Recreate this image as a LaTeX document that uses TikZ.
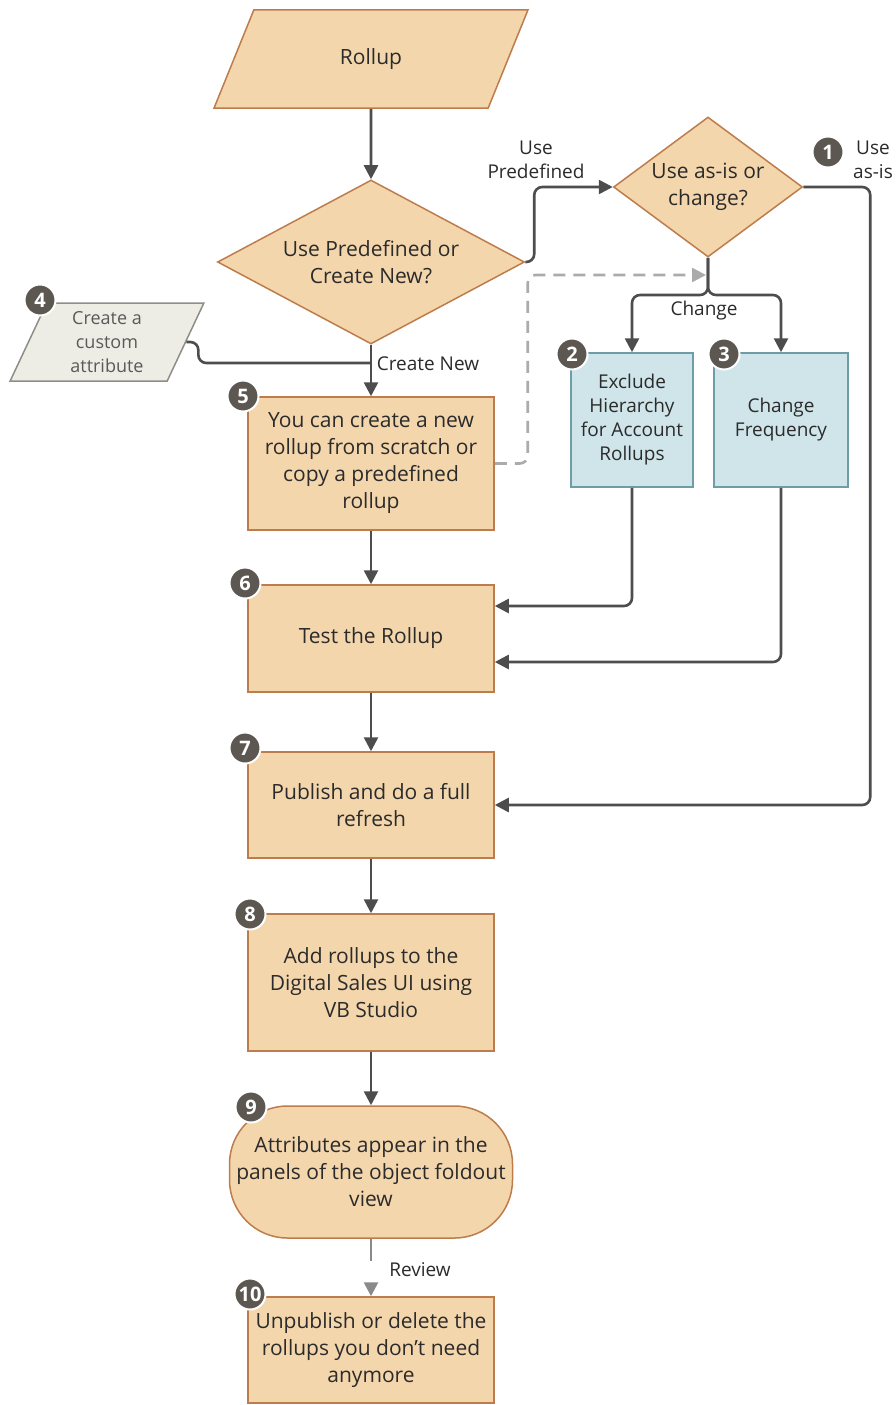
\documentclass[tikz,border=0pt]{standalone}
\usepackage{fontspec}
\setmainfont{Open Sans}
\usetikzlibrary{shapes.geometric, arrows.meta}
\definecolor{peach}{HTML}{F4D6AC}
\definecolor{rimorange}{HTML}{BD7C4C}
\definecolor{paleblue}{HTML}{CFE5EA}
\definecolor{rimblue}{HTML}{6E9DA9}
\definecolor{palegray}{HTML}{EEEDE5}
\definecolor{rimgray}{HTML}{8E8E88}
\definecolor{badgegray}{HTML}{5D5752}
\definecolor{linegray}{HTML}{4D4D4D}
\definecolor{dashgray}{HTML}{ABABAB}
\definecolor{midgray}{HTML}{8A8A8A}
\definecolor{textdark}{HTML}{2B2B2B}
\newcommand{\mainsize}{\fontsize{21}{27}\selectfont}
\newcommand{\lblsize}{\fontsize{19}{24}\selectfont}
\newcommand{\badgesize}{\fontsize{20}{20}\selectfont}
\tikzstyle{inout} = [trapezium, trapezium stretches=true, draw=rimorange, fill=peach, line width=1.5pt, text=textdark, align=center, inner sep=0pt, font=\mainsize]
\tikzstyle{decision} = [diamond, draw=rimorange, fill=peach, line width=1.5pt, text=textdark, align=center, inner sep=0pt, font=\mainsize]
\tikzstyle{process} = [rectangle, minimum width=246pt, draw=rimorange, fill=peach, line width=1.5pt, text=textdark, align=center, font=\mainsize]
\tikzstyle{option} = [rectangle, minimum height=134pt, draw=rimblue, fill=paleblue, line width=1.5pt, text=textdark, align=center, font=\lblsize]
\tikzstyle{badge} = [circle, minimum size=31pt, inner sep=0pt, fill=badgegray, draw=white, line width=2pt, text=white, font=\badgesize\bfseries]
\tikzstyle{tag} = [text=textdark, align=center, font=\lblsize]
\tikzstyle{arrow} = [line width=2.6pt, draw=linegray, rounded corners=8pt, ->, >={Triangle[length=14pt,width=14pt]}]
\tikzstyle{link} = [line width=2.6pt, draw=linegray, rounded corners=8pt]
\tikzstyle{dasharrow} = [line width=2.6pt, draw=dashgray, rounded corners=8pt, dash pattern=on 12pt off 8pt, ->, >={Triangle[length=14pt,width=14pt]}]
\tikzstyle{reviewarrow} = [line width=2.6pt, draw=midgray, dash pattern=on 22pt off 40pt, ->, >={Triangle[length=14pt,width=14pt]}]

\begin{document}
\begin{tikzpicture}[x=1pt, y=-1pt]
    \useasboundingbox (0,0) rectangle (895,1405);

    \node (rollup) [inout, minimum width=315pt, minimum height=98pt, trapezium left angle=63.4, trapezium right angle=116.6] at (371,59) {Rollup};
    \node (predef) [decision, minimum width=307pt, minimum height=164pt, aspect=1.87] at (371,262) {Use Predefined or\\Create New?};
    \node (asis) [decision, minimum width=189pt, minimum height=140pt, aspect=1.35] at (708,187) {Use as-is or\\change?};
    \node (attr) [inout, draw=rimgray, fill=palegray, text=black!65, font=\fontsize{18}{24}\selectfont, minimum width=194pt, minimum height=78pt, trapezium left angle=70, trapezium right angle=110] at (107,342) {Create a\\custom\\attribute};
    \node (create) [process, minimum height=133pt] at (371,463.5) {You can create a new\\rollup from scratch or\\copy a predefined\\rollup};
    \node (exclude) [option, minimum width=122pt] at (632,420) {Exclude\\Hierarchy\\for Account\\Rollups};
    \node (freq) [option, minimum width=134pt] at (781,420) {Change\\Frequency};
    \node (test) [process, minimum height=107pt] at (371,638.5) {Test the Rollup};
    \node (publish) [process, minimum height=106pt] at (371,805) {Publish and do a full\\refresh};
    \node (addui) [process, minimum height=137pt] at (371,982.5) {Add rollups to the\\Digital Sales UI using\\VB Studio};
    \node (appear) [process, minimum width=283pt, minimum height=132pt, rounded corners=58pt] at (371,1172) {Attributes appear in the\\panels of the object foldout\\view};
    \node (unpub) [process, minimum height=106pt] at (371,1350) {Unpublish or delete the\\rollups you don’t need\\anymore};

    % step numbers
    \node (b1) [badge] at (828,152) {1};
    \node (b2) [badge] at (572,354) {2};
    \node (b3) [badge] at (724,354) {3};
    \node (b4) [badge] at (40,300) {4};
    \node (b5) [badge] at (243,396) {5};
    \node (b6) [badge] at (245,583) {6};
    \node (b7) [badge] at (245,748) {7};
    \node (b8) [badge] at (250,914) {8};
    \node (b9) [badge] at (251,1107) {9};
    \node (b10) [badge] at (250,1294) {10};

    \node (lpredef) [tag] at (536,160) {Use\\Predefined};
    \node (lasis) [tag] at (873,160) {Use\\as-is};
    \node (lchange) [tag] at (704,311) {Change};
    \node (lnew) [tag] at (428,364) {Create New};
    \node (lreview) [tag] at (420,1270) {Review};

    \coordinate (join) at (371,363);
    \coordinate (fork) at (708,295);
    \coordinate (dashend) at (706,275);

    \draw [arrow] (rollup) -- (predef);
    \draw [arrow] (predef.east) -- ++(9,0) |- (asis.west);
    \draw [link] (attr.east) -- ++(12,0) |- (join);
    \draw [arrow] (predef.south) -- (create.north);
    \draw [dasharrow] (create.east) -- ++(33,0) |- (dashend);
    \draw [arrow] (asis.south) -- (fork) -| (exclude.north);
    \draw [arrow] (asis.south) -- (fork) -| (freq.north);
    \draw [arrow] (asis.east) -- ++(67,0) |- (publish.east);
    \draw [arrow] (exclude.south) |- (test.east |- 0,606);
    \draw [arrow] (freq.south) |- (test.east |- 0,662);
    \draw [arrow] (create) -- (test);
    \draw [arrow] (test) -- (publish);
    \draw [arrow] (publish) -- (addui);
    \draw [arrow] (addui) -- (appear);
    \draw [reviewarrow] (appear) -- (unpub);
  \end{tikzpicture}
\end{document}
